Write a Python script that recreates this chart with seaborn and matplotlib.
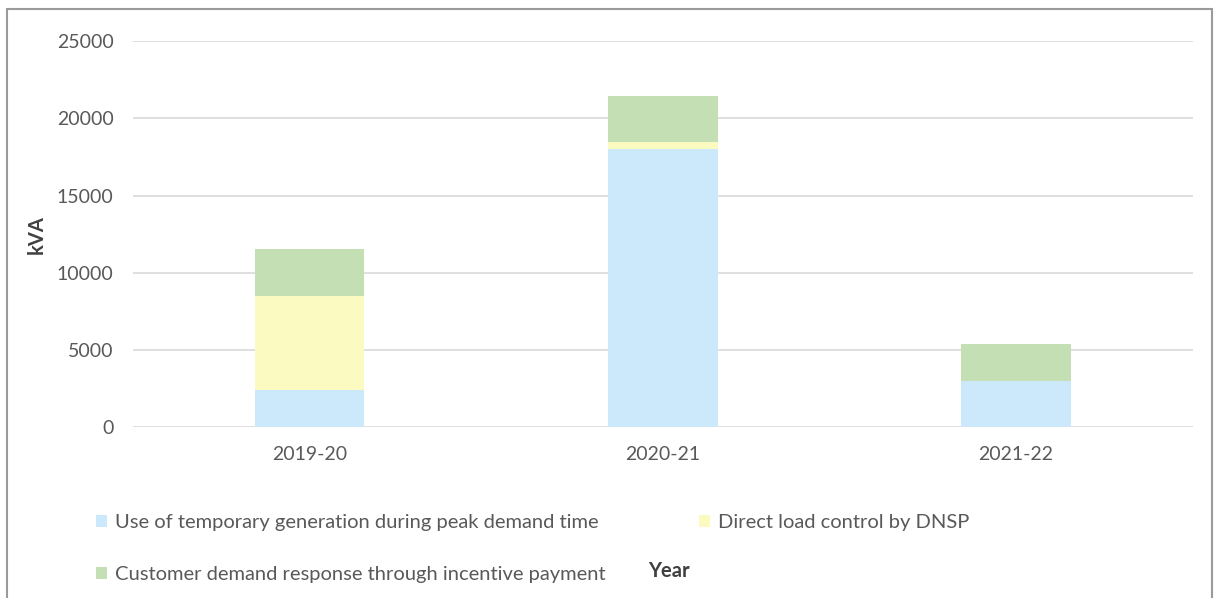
import pandas as pd
import matplotlib.pyplot as plt
import seaborn as sns
from matplotlib.patches import Patch, Rectangle

# Values (kVA)
years = ["2019-20", "2020-21", "2021-22"]
temp_generation = [2400, 18000, 3000]
direct_load = [6100, 500, 0]
demand_response = [3050, 2950, 2400]

series_names = [
    "Use of temporary generation during peak demand time",
    "Direct load control by DNSP",
    "Customer demand response through incentive payment",
]
colors = ["#cce9fc", "#fbfbc1", "#c5dfb4"]
text_grey = "#595959"

sns.set_theme(style="white")
plt.rcParams["font.family"] = ["Lato", "DejaVu Sans"]

df = pd.DataFrame({
    "year": years,
    "blue": temp_generation,
    "yellow": direct_load,
    "green": demand_response,
})
# cumulative tops so the stack can be drawn back to front
df["top_blue"] = df["blue"]
df["top_yellow"] = df["blue"] + df["yellow"]
df["top_green"] = df["top_yellow"] + df["green"]

fig = plt.figure(figsize=(12.15, 5.98), dpi=100)
ax = fig.add_axes([0.1095, 0.286, 0.872, 0.645])

for col, color in zip(["top_green", "top_yellow", "top_blue"], colors[::-1]):
    sns.barplot(data=df, x="year", y=col, color=color, width=0.31,
                saturation=1, linewidth=0, ax=ax, zorder=3)

ax.set_ylim(0, 25000)
ax.set_yticks(range(0, 25001, 5000))
ax.yaxis.grid(True, color="#d9d9d9", linewidth=1.2, zorder=0)
ax.set_axisbelow(True)
sns.despine(ax=ax, left=True, bottom=True)
ax.tick_params(axis="both", length=0, labelsize=14, colors=text_grey)
ax.tick_params(axis="y", pad=14)
ax.tick_params(axis="x", pad=14)
ax.set_xlabel("")
ax.set_ylabel("kVA", fontsize=14.5, fontweight="bold", color="#404040", labelpad=7)

fig.text(669 / 1215, 1 - 571 / 598, "Year", ha="center", va="center",
         fontsize=14.5, fontweight="bold", color="#404040")

handles = [Patch(facecolor=c, edgecolor="none") for c in colors]
# column-major filling: col 1 = blue, green ; col 2 = yellow
order = [0, 2, 1]
fig.legend([handles[i] for i in order], [series_names[i] for i in order],
           ncol=2, loc="upper left", bbox_to_anchor=(78 / 1215, 1 - 496 / 598),
           frameon=False, fontsize=14.5, labelcolor=text_grey,
           handlelength=0.55, handleheight=0.55, handletextpad=0.4,
           columnspacing=4.6, labelspacing=1.75)

# outer chart border
fig.add_artist(Rectangle((7 / 1215, -0.01), 1205 / 1215, 1 - 9 / 598 + 0.01,
                         transform=fig.transFigure, fill=False,
                         edgecolor="#9a9a9a", linewidth=1.5))

fig.savefig("out.png", dpi=100)
